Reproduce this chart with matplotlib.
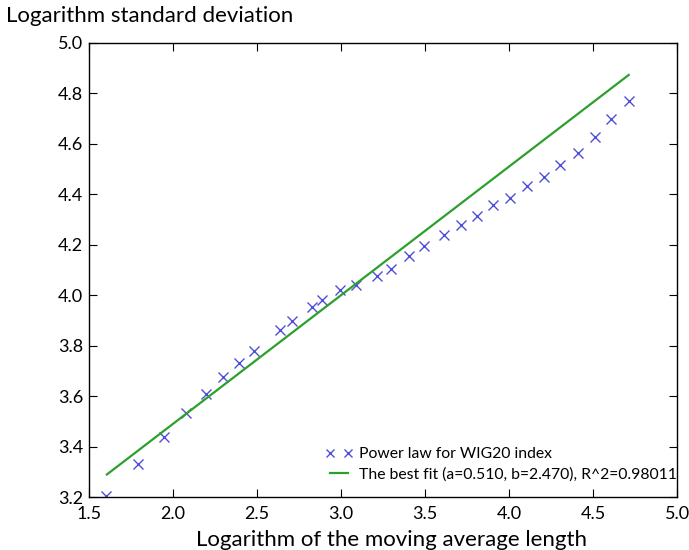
import matplotlib
matplotlib.use('Agg')
import matplotlib.pyplot as plt

# log of moving average length vs log standard deviation (WIG20)
log_len = [1.603, 1.794, 1.944, 2.080, 2.199, 2.300, 2.395, 2.481, 2.636, 2.706,
           2.828, 2.889, 2.994, 3.090, 3.214, 3.295, 3.403, 3.496, 3.613, 3.711,
           3.811, 3.906, 4.007, 4.109, 4.205, 4.305, 4.408, 4.510, 4.608, 4.711]
log_std = [3.205, 3.331, 3.439, 3.534, 3.607, 3.675, 3.732, 3.779, 3.864, 3.899,
           3.954, 3.980, 4.021, 4.042, 4.075, 4.106, 4.154, 4.196, 4.239, 4.277,
           4.315, 4.356, 4.387, 4.432, 4.469, 4.517, 4.563, 4.628, 4.699, 4.769]

# best fit line end points
fit_x = [1.607, 4.711]
fit_y = [3.290, 4.873]

x_ticks = [1.5, 2.0, 2.5, 3.0, 3.5, 4.0, 4.5, 5.0]
y_ticks = [3.2, 3.4, 3.6, 3.8, 4.0, 4.2, 4.4, 4.6, 4.8, 5.0]

plt.rcParams['font.family'] = ['Lato', 'DejaVu Sans']

fig = plt.figure(figsize=(6.89, 5.5), dpi=100)
ax = fig.add_axes([0.129, 0.096, 0.854, 0.826])

ax.plot(log_len, log_std, linestyle='none', marker='x', color='#4f4fd8',
        markersize=7, markeredgewidth=1.0, label='Power law for WIG20 index')
ax.plot(fit_x, fit_y, color='#2ca02c', linewidth=1.6,
        label='The best fit (a=0.510, b=2.470), R^2=0.98011')

ax.set_xlim(1.5, 5.0)
ax.set_ylim(3.2, 5.0)
ax.set_xticks(x_ticks)
ax.set_yticks(y_ticks)
ax.set_xticklabels([f'{v:.1f}' for v in x_ticks])
ax.set_yticklabels([f'{v:.1f}' for v in y_ticks])
ax.tick_params(direction='in', top=True, right=True, length=6, labelsize=13)
ax.tick_params(axis='x', pad=6)
ax.tick_params(axis='y', pad=4)
for sp in ax.spines.values():
    sp.set_linewidth(1.0)

ax.set_xlabel('Logarithm of the moving average length', fontsize=16)
ax.xaxis.set_label_coords(0.515, -0.072)
fig.text(0.008, 0.97, 'Logarithm standard deviation', fontsize=16, ha='left', va='center')

ax.legend(loc='lower right', bbox_to_anchor=(1.0, 0.035), frameon=False, numpoints=2,
          fontsize=11.3, handlelength=1.8, handletextpad=0.4, borderaxespad=0.0,
          borderpad=0.0, labelspacing=0.35, markerscale=0.85)

plt.savefig('out.png', dpi=100)
